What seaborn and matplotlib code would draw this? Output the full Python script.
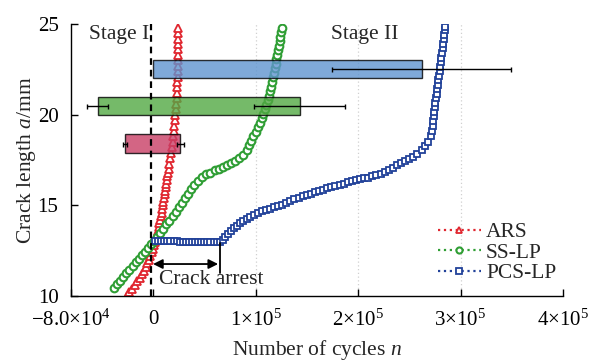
import matplotlib
matplotlib.use("Agg")
import matplotlib.pyplot as plt
import seaborn as sns
import numpy as np
import pandas as pd

# ---------------- data ----------------
ars_n = [-25500, -23000, -20500, -18000, -15500, -13000, -11000, -9000, -7200, -5500,
         -4000, -2500, -1200, 0, 1000, 2000, 3000, 3900, 4700, 5500,
         6200, 6900, 7600, 8300, 9000, 9600, 10200, 10800, 11400, 12000,
         12500, 13000, 13600, 14100, 14600, 15100, 15900, 16700, 17500, 18300,
         19000, 19700, 20300, 20900, 21400, 21900, 22300, 22700, 23000, 23300,
         23500, 23700, 23900, 24000, 24100, 24200, 24300, 24400, 24500, 24600,
         24700, 24800]
ars_a = [10.0, 10.2, 10.4, 10.6, 10.8, 11.0, 11.2, 11.4, 11.6, 11.8,
         12.0, 12.2, 12.4, 12.6, 12.8, 13.0, 13.2, 13.4, 13.6, 13.8,
         14.0, 14.2, 14.4, 14.6, 14.8, 15.0, 15.2, 15.4, 15.6, 15.8,
         16.0, 16.2, 16.4, 16.6, 16.8, 17.0, 17.3, 17.6, 17.9, 18.2,
         18.5, 18.8, 19.1, 19.4, 19.7, 20.0, 20.3, 20.6, 20.9, 21.2,
         21.5, 21.8, 22.1, 22.4, 22.7, 23.0, 23.3, 23.6, 23.9, 24.2,
         24.5, 24.8]

sslp_n = [-38000, -35000, -32000, -29000, -26000, -23000, -20000, -17000, -14000, -11000,
          -8000, -5000, -2000, 1000, 4000, 7000, 10000, 13000, 16000, 19000,
          22000, 25000, 28000, 31000, 34000, 37000, 40000, 44000, 48000, 52000,
          56000, 60000, 64000, 68000, 72000, 76000, 80000, 84000, 88000, 92000,
          94000, 96000, 98000, 100000, 102000, 104000, 106000, 107500, 109000, 110500,
          112000, 113000, 114000, 115000, 116000, 117000, 118000, 118800, 119600, 120400,
          121200, 122000, 122800, 123500, 124200, 124900, 125500]
sslp_a = [10.45, 10.65, 10.85, 11.05, 11.25, 11.45, 11.65, 11.85, 12.05, 12.25,
          12.45, 12.65, 12.85, 13.05, 13.25, 13.45, 13.7, 13.95, 14.15, 14.4,
          14.65, 14.9, 15.15, 15.4, 15.65, 15.9, 16.1, 16.35, 16.55, 16.7,
          16.8, 16.92, 17.02, 17.12, 17.22, 17.34, 17.47, 17.62, 17.8, 18.05,
          18.3, 18.55, 18.8, 19.05, 19.3, 19.55, 19.8, 20.05, 20.3, 20.55,
          20.8, 21.05, 21.3, 21.55, 21.8, 22.05, 22.3, 22.55, 22.8, 23.05,
          23.3, 23.55, 23.8, 24.05, 24.3, 24.55, 24.8]

pcslp_n = [2000, 5000, 8000, 11000, 14000, 17000, 20000, 23000, 26000, 29000,
           32000, 35000, 38000, 41000, 44000, 47000, 50000, 53000, 56000, 59000,
           62000, 65000, 68000, 70500, 73000, 76000, 79000, 82000, 85000, 88000,
           91500, 95000, 98500, 102000, 106000, 110000, 114000, 118000, 122000, 126000,
           130000, 134000, 138000, 142000, 146000, 150000, 154000, 158000, 162000, 166000,
           170000, 174000, 178000, 182000, 186000, 190000, 194000, 198000, 202000, 206000,
           210000, 214000, 218000, 222000, 226000, 230000, 234000, 238000, 242000, 246000,
           250000, 254000, 258000, 262000, 265500, 268500, 271000, 272500, 273000, 273500,
           274000, 274500, 275000, 275500, 276000, 276600, 277200, 277800, 278400, 279000,
           279600, 280200, 280800, 281400, 282000, 282600, 283200, 283800, 284300, 284700,
           285000]
pcslp_a = [13.02, 13.02, 13.02, 13.02, 13.02, 13.02, 13.01, 13.01, 13.0, 13.0,
           13.0, 12.99, 12.99, 12.98, 12.98, 12.97, 12.97, 12.96, 12.96, 12.95,
           12.95, 12.96, 13.08, 13.25, 13.42, 13.6, 13.75, 13.88, 14.0, 14.12,
           14.25, 14.37, 14.48, 14.58, 14.67, 14.75, 14.82, 14.88, 14.95, 15.03,
           15.12, 15.22, 15.32, 15.42, 15.5, 15.57, 15.64, 15.72, 15.79, 15.86,
           15.93, 16.0, 16.07, 16.14, 16.2, 16.27, 16.33, 16.38, 16.43, 16.48,
           16.53, 16.59, 16.66, 16.75, 16.85, 16.96, 17.08, 17.2, 17.33, 17.45,
           17.56, 17.68, 17.85, 18.03, 18.25, 18.5, 18.8, 19.1, 19.4, 19.65,
           19.9, 20.15, 20.4, 20.65, 20.9, 21.15, 21.4, 21.65, 21.9, 22.15,
           22.4, 22.65, 22.9, 23.15, 23.4, 23.65, 23.9, 24.15, 24.4, 24.65,
           24.85]

# stage bars (ranges of cycles) with end error values
bar_names = ["ARS", "SS-LP", "PCS-LP"]
bar_y = [18.4, 20.47, 22.52]
bar_left = [-27500, -54000, 0]
bar_right = [26600, 143000, 262000]
bar_left_err = [2000, 10000, 0]
bar_right_err = [3300, 44000, 87500]

xticks = [-80000, 0, 100000, 200000, 300000, 400000]
xtick_labels = [r"$-8.0{\times}10^{4}$", "0", r"$1{\times}10^{5}$",
                r"$2{\times}10^{5}$", r"$3{\times}10^{5}$", r"$4{\times}10^{5}$"]
yticks = [10, 15, 20, 25]

# ---------------- style ----------------
sns.set_style("ticks")
plt.rcParams["font.family"] = ["Liberation Serif", "DejaVu Serif"]
plt.rcParams["mathtext.fontset"] = "custom"
plt.rcParams["mathtext.rm"] = "Liberation Serif"
plt.rcParams["mathtext.it"] = "Liberation Serif:italic"
plt.rcParams["font.size"] = 15

line_colors = {"ARS": "#e0262f", "SS-LP": "#2f9e34", "PCS-LP": "#22429a"}
bar_colors = ["#c93e66", "#52a944", "#5f94d0"]

fig = plt.figure(figsize=(5.92, 3.64), dpi=100)
ax = fig.add_axes([0.12, 0.187, 0.831, 0.747])

# grid (vertical faint dotted)
for xv in [100000, 200000, 300000]:
    ax.axvline(xv, color="#d0d0d0", lw=0.9, ls=(0, (1, 2)), zorder=0)

df_ars = pd.DataFrame({"n": ars_n, "a": ars_a})
df_ss = pd.DataFrame({"n": sslp_n, "a": sslp_a})
df_pcs = pd.DataFrame({"n": pcslp_n, "a": pcslp_a})

sns.lineplot(data=df_ars, x="n", y="a", ax=ax, sort=False, estimator=None,
             color=line_colors["ARS"], ls=":", lw=1.6, marker="^", markersize=6,
             markerfacecolor="white", markeredgecolor=line_colors["ARS"],
             markeredgewidth=1.3, label="ARS", zorder=2)
sns.lineplot(data=df_ss, x="n", y="a", ax=ax, sort=False, estimator=None,
             color=line_colors["SS-LP"], ls=":", lw=1.6, marker="o", markersize=5.5,
             markerfacecolor="white", markeredgecolor=line_colors["SS-LP"],
             markeredgewidth=1.5, label="SS-LP", zorder=2)
sns.lineplot(data=df_pcs, x="n", y="a", ax=ax, sort=False, estimator=None,
             color=line_colors["PCS-LP"], ls=":", lw=1.6, marker="s", markersize=4.8,
             markerfacecolor="white", markeredgecolor=line_colors["PCS-LP"],
             markeredgewidth=1.3, label="PCS-LP", zorder=2)

# bars
for i in range(3):
    w = bar_right[i] - bar_left[i]
    ax.barh(bar_y[i], w, left=bar_left[i], height=1.02, color=bar_colors[i],
            alpha=0.8, edgecolor="black", linewidth=1.0, zorder=3)
    if bar_left_err[i] > 0:
        ax.errorbar(bar_left[i], bar_y[i], xerr=bar_left_err[i], fmt="none",
                    ecolor="black", elinewidth=1.0, capsize=1.8, capthick=1.0, zorder=4)
    ax.errorbar(bar_right[i], bar_y[i], xerr=bar_right_err[i], fmt="none",
                ecolor="black", elinewidth=1.0, capsize=1.8, capthick=1.0, zorder=4)

# stage divider
ax.axvline(-1500, color="black", lw=1.6, ls=(0, (3, 2.2)), zorder=5)

# crack arrest annotation
ax.annotate("", xy=(0, 11.76), xytext=(63500, 11.76),
            arrowprops=dict(arrowstyle="<|-|>", color="black", lw=1.3,
                            mutation_scale=14, shrinkA=0, shrinkB=0), zorder=5)
ax.plot([65500, 65500], [11.27, 12.92], color="black", lw=1.3, zorder=5)
ax.text(6000, 10.9, "Crack arrest", ha="left", va="center", fontsize=15.5, zorder=6)

ax.text(-62000, 24.4, "Stage I", ha="left", va="center", fontsize=15.5)
ax.text(174000, 24.4, "Stage II", ha="left", va="center", fontsize=15.5)

# axes
ax.set_xlim(-80000, 400000)
ax.set_ylim(10, 25)
ax.set_xticks(xticks)
ax.set_xticklabels(xtick_labels)
ax.set_yticks(yticks)
ax.tick_params(direction="in", length=5, width=1.0, labelsize=15, colors="black")
ax.tick_params(axis="x", pad=10)
ax.tick_params(axis="y", pad=9)
for s in ["top", "right"]:
    ax.spines[s].set_visible(False)
for s in ["left", "bottom"]:
    ax.spines[s].set_linewidth(1.0)
    ax.spines[s].set_color("black")

ax.set_xlabel(r"Number of cycles $n$", fontsize=15.5, labelpad=5)
ax.set_ylabel(r"Crack length $a$/mm", fontsize=15.5, labelpad=0)

ax.legend(loc="upper left", bbox_to_anchor=(0.745, 0.272), frameon=False,
          fontsize=15.5, handlelength=2.0, handletextpad=0.25, labelspacing=0.02,
          borderpad=0, borderaxespad=0, markerscale=0.8)

fig.savefig("out.png", dpi=100)
